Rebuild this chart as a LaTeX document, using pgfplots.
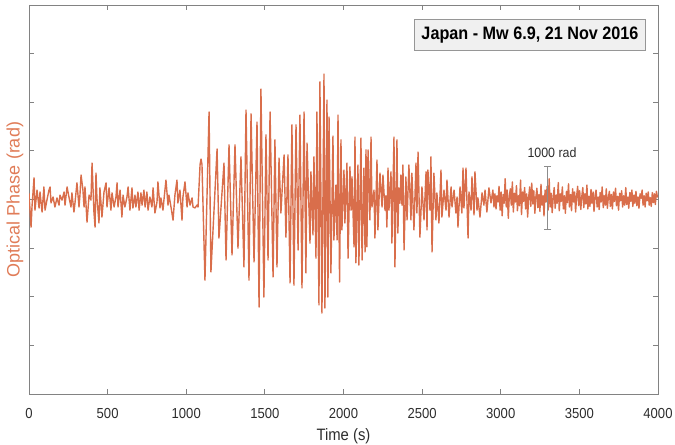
\documentclass[border=0pt]{standalone}
\usepackage{fontspec}
\setmainfont{Liberation Sans}
\usepackage{pgfplots}
\usepackage{pgfplotstable}
\pgfplotsset{compat=1.18}

\definecolor{trace}{RGB}{217,110,75}
\definecolor{ylab}{RGB}{224,124,88}
\definecolor{barcol}{RGB}{140,140,140}
\definecolor{boxfill}{RGB}{240,240,240}
\definecolor{boxedge}{RGB}{150,150,150}
\definecolor{axcol}{RGB}{130,130,130}
\definecolor{labcol}{RGB}{45,45,45}

% optical phase trace, time in s, phase in rad (turning points)
\pgfplotstableread{
t phi
0 100
13 -440
19 -120
32 345
38 -170
51 150
64 -135
70 120
83 -200
95 200
102 -170
114 -10
127 150
134 200
140 -55
153 40
165 -120
178 25
191 -90
197 70
210 -10
223 120
229 -90
242 200
254 40
267 -120
273 105
286 -200
293 -40
305 265
318 -120
324 70
331 390
343 150
350 -120
356 200
369 -360
382 70
394 -10
401 580
413 -200
420 -440
426 420
432 25
445 -375
451 185
464 -280
477 120
490 265
496 -120
509 185
521 -170
528 105
541 -120
553 40
560 265
566 -120
579 150
591 -280
598 70
610 -120
623 40
630 200
642 -170
655 185
661 -135
674 70
680 -120
693 120
700 -170
712 105
719 -90
731 150
738 -120
750 120
757 -170
769 40
782 -120
789 185
801 -215
814 -40
820 280
833 -135
839 25
852 -170
858 -10
871 310
884 -90
890 70
903 -120
916 -330
928 70
941 310
947 -55
960 150
973 -330
979 40
992 280
1005 -120
1011 105
1024 -90
1037 25
1043 -120
1056 -135
1068 -90
1075 -120
1088 560
1094 645
1100 560
1119 -1285
1145 1395
1157 -1155
1196 805
1208 -615
1240 580
1253 -965
1272 870
1291 -885
1310 870
1329 -775
1348 680
1367 -1075
1380 1425
1399 -1285
1412 1365
1431 -995
1450 1235
1463 -1715
1475 1760
1494 -1555
1507 1030
1520 -965
1533 1395
1552 -1235
1564 950
1577 -1075
1590 660
1602 -215
1622 710
1634 -600
1647 710
1660 -1330
1672 1190
1685 -1365
1698 1190
1711 -805
1723 1345
1736 -1410
1749 1395
1761 -1170
1768 900
1787 -695
1793 440
1806 -565
1812 680
1825 -935
1831 1395
1844 -1680
1850 1875
1863 -1810
1876 2000
1882 -1730
1895 1585
1901 -1555
1908 1315
1920 -1170
1933 1010
1939 -645
1952 230
1959 -645
1965 1345
1975 -1315
1984 950
1990 -485
2003 470
2009 -375
2022 580
2029 -935
2041 520
2048 -170
2054 360
2067 -755
2073 995
2079 -1010
2092 550
2098 -1045
2111 980
2118 -965
2130 500
2137 -835
2143 790
2149 -755
2156 790
2168 -325
2175 995
2181 -120
2194 150
2200 -615
2213 630
2219 -485
2232 420
2245 -120
2251 390
2264 -170
2270 60
2276 -440
2283 500
2289 -170
2302 440
2308 -695
2321 995
2327 -1075
2340 950
2346 -535
2352 185
2359 -60
2365 390
2372 -90
2378 550
2385 -805
2397 360
2404 -325
2416 550
2429 -325
2435 420
2448 -485
2461 580
2467 -215
2474 755
2486 -600
2499 200
2512 -325
2525 440
2531 -485
2537 470
2550 -170
2556 680
2563 -835
2575 420
2588 -325
2594 105
2607 -375
2620 470
2626 -280
2639 150
2652 -170
2658 310
2671 -280
2684 200
2690 -120
2703 150
2715 -215
2722 40
2728 -440
2741 200
2753 -215
2760 500
2766 -135
2779 500
2792 -615
2798 120
2811 -170
2817 360
2830 -245
2836 440
2849 -170
2855 25
2868 -280
2881 105
2893 -90
2900 150
2912 -200
2925 185
2938 -55
2950 150
2957 -120
2963 90
2970 -150
2976 60
2983 -40
2989 210
2996 -170
3002 120
3009 -260
3015 80
3022 -60
3028 330
3035 -120
3041 150
3048 -300
3054 40
3061 170
3067 -90
3074 280
3080 -200
3087 100
3093 -40
3100 220
3106 -180
3113 60
3119 -100
3126 310
3132 -240
3139 120
3145 -30
3152 190
3158 -150
3165 90
3171 -280
3178 50
3184 200
3191 -110
3197 260
3204 -70
3210 140
3217 -220
3223 30
3230 180
3236 -130
3243 80
3249 -190
3256 240
3262 -90
3269 60
3275 -260
3282 150
3288 -40
3295 210
3301 -170
3308 330
3314 -120
3321 100
3327 -210
3334 40
3340 190
3346 -140
3353 70
3359 -60
3366 270
3372 -180
3379 90
3385 -30
3392 200
3398 -150
3405 60
3411 -220
3418 130
3424 -50
3431 250
3437 -120
3444 80
3450 -180
3457 170
3463 -40
3470 120
3476 -200
3483 60
3489 210
3496 -100
3502 140
3509 -160
3515 40
3522 190
3528 -130
3535 90
3541 -70
3548 230
3554 -150
3561 50
3567 -110
3574 160
3580 -60
3587 120
3593 -190
3600 70
3606 150
3613 -120
3619 40
3626 -160
3632 110
3639 -40
3645 200
3652 -130
3658 60
3665 -90
3671 170
3678 -140
3684 30
3691 130
3697 -110
3704 80
3710 -150
3717 120
3723 -30
3730 180
3736 -100
3743 50
3749 -170
3756 100
3762 -20
3769 140
3775 -120
3782 60
3788 -90
3795 190
3801 -80
3808 40
3814 -140
3821 110
3827 -30
3834 150
3840 -110
3847 70
3853 -60
3860 130
3866 -100
3873 40
3879 -140
3886 90
3892 20
3899 150
3905 -90
3912 60
3918 -120
3925 100
3931 -20
3938 120
3944 -90
3951 30
3957 -110
3964 110
3970 -50
3977 90
3983 -80
3990 130
3996 40
4000 60
}\trace

\begin{document}
\begin{tikzpicture}
\begin{axis}[
    scale only axis,
    width=629bp, height=389bp,
    xmin=0, xmax=4000,
    ymin=-3100, ymax=3100,
    xtick={0,500,...,4000},
    ytick={-2325,-1550,-775,0,775,1550,2325},
    yticklabels={},
    scaled x ticks=false,
    tick align=inside,
    major tick length=5bp,
    axis line style={axcol, line width=0.8bp},
    tick style={axcol, line width=0.8bp},
    /pgf/number format/assume math mode=true,
    /pgf/number format/1000 sep={},
    xticklabel style={font=\fontsize{14.5bp}{17bp}\selectfont, text=labcol,
        xscale=0.9, anchor=base, yshift=-25bp},
    xlabel={Time (s)},
    xlabel style={font=\fontsize{16.5bp}{19bp}\selectfont, text=labcol, xscale=0.9,
        at={(axis description cs:0.5,-0.1183)}, anchor=base},
    ylabel={Optical Phase (rad)},
    ylabel style={font=\fontsize{18bp}{21bp}\selectfont, text=ylab,
        at={(axis description cs:-0.0223,0.5)}, anchor=center},
]
\addplot[trace, line width=1.4bp, line join=round, mark=none] table[x=t, y=phi] {\trace};

% 1000 rad scale bar
\addplot[barcol, mark=none, forget plot,
    error bars/.cd, y dir=both, y explicit,
    error bar style={barcol, line width=1bp},
    error mark options={barcol, rotate=90, mark size=3.5bp, line width=1bp}]
    coordinates {(3300,24) +- (0,500)};
\node[font=\fontsize{13.5bp}{16bp}\selectfont, text=labcol, xscale=0.92]
    at (axis cs:3326,741) {1000 rad};

\node[draw=boxedge, fill=boxfill, line width=0.8bp, text=black,
    font=\bfseries\fontsize{18bp}{21bp}\selectfont,
    inner xsep=8bp, minimum height=31bp, xscale=0.9, anchor=north east]
    at (rel axis cs:0.981,0.964) {Japan - Mw 6.9, 21 Nov 2016};
\end{axis}
\pgfresetboundingbox
\path[use as bounding box] ([shift={(-29bp,-51bp)}]current axis.south west)
    rectangle ([shift={(17bp,5bp)}]current axis.north east);
\end{tikzpicture}
\end{document}
